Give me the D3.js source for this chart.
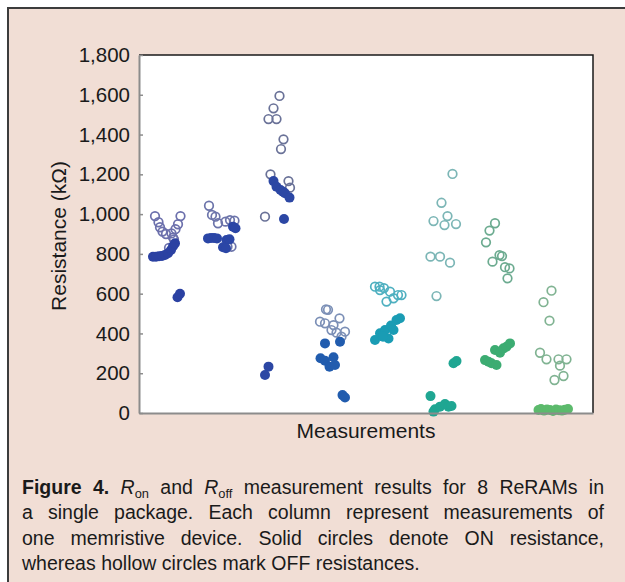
<!DOCTYPE html>
<html>
<head>
<meta charset="utf-8">
<script src="https://cdn.jsdelivr.net/npm/d3@7"></script>
<style>
  body { margin: 0; background: #fff; }
  svg { display: block; font-family: "Liberation Sans", Arial, Helvetica, sans-serif; }
</style>
</head>
<body>
<script>
// Device columns (x is a position along the measurement axis, value in kOhm)
const devices = [1, 2, 3, 4, 5, 6, 7, 8];

// Hollow circles: OFF resistance
const offPoints = [
  [[1.6, 990], [1.95, 959], [2.1, 934], [2.35, 912], [2.7, 900], [3.25, 903], [3.4, 882], [4.15, 990], [3.9, 949], [3.65, 924], [3.5, 873], [3.0, 830]],
  [[7.0, 1042], [7.3, 996], [7.65, 987], [7.9, 954], [8.65, 962], [9.1, 970], [9.55, 967], [8.85, 836], [9.25, 836]],
  [[14.05, 1594], [13.45, 1532], [12.95, 1478], [13.75, 1478], [14.45, 1376], [14.2, 1327], [13.15, 1200], [14.95, 1166], [15.1, 1133], [12.6, 987]],
  [[18.7, 521], [18.9, 519], [18.1, 459], [18.6, 451], [19.45, 442], [20.05, 476], [19.25, 417], [19.75, 404], [20.6, 409], [20.25, 384]],
  [[23.6, 635], [24.05, 635], [24.1, 618], [24.5, 628], [25.1, 610], [24.75, 560], [25.45, 577], [25.9, 593], [26.25, 593]],
  [[31.35, 1202], [30.25, 1057], [29.45, 965], [30.85, 990], [30.55, 945], [31.7, 950], [29.15, 786], [30.1, 786], [31.1, 756], [29.75, 588]],
  [[35.6, 954], [35.05, 917], [34.7, 858], [36.05, 794], [36.3, 789], [35.35, 761], [36.6, 733], [37.05, 727], [36.85, 677]],
  [[41.25, 615], [40.45, 557], [41.05, 464], [40.1, 303], [40.75, 270], [41.95, 270], [42.75, 270], [42.1, 238], [42.45, 186], [41.55, 166]]
];

// Solid circles: ON resistance
const onPoints = [
  [[1.4, 786], [1.7, 786], [2.0, 788], [2.3, 790], [2.6, 795], [2.9, 803], [3.2, 820], [3.4, 838], [3.6, 853], [3.85, 582], [4.1, 600]],
  [[6.9, 878], [7.2, 880], [7.5, 880], [7.8, 878], [8.75, 870], [9.05, 873], [8.4, 833], [8.7, 828], [9.4, 937], [9.65, 929]],
  [[13.45, 1166], [13.75, 1138], [14.15, 1121], [14.4, 1112], [14.6, 1105], [15.05, 1083], [14.5, 975], [12.95, 233], [12.6, 191]],
  [[18.6, 350], [20.1, 358], [18.15, 275], [18.6, 263], [19.05, 233], [19.45, 280], [19.6, 241], [20.35, 90], [20.6, 78]],
  [[23.6, 367], [24.1, 401], [24.6, 417], [24.95, 375], [25.45, 417], [25.75, 468], [26.1, 476], [24.4, 384], [25.2, 440]],
  [[31.45, 250], [31.75, 261], [29.15, 85], [29.45, 7], [29.6, 19], [30.1, 32], [30.6, 45], [30.95, 32], [31.25, 35]],
  [[34.6, 266], [34.95, 258], [35.25, 250], [35.75, 241], [35.6, 317], [36.1, 303], [36.45, 325], [36.75, 333], [37.1, 350]],
  [[39.95, 15], [40.2, 20], [40.5, 12], [40.8, 18], [41.1, 15], [41.4, 10], [41.7, 17], [42.0, 14], [42.3, 12], [42.6, 16], [42.9, 20]]
];

const solidColors = ["#2b41a2", "#2b46a6", "#2c47a4", "#215cae", "#1a9cb4", "#1fa692", "#3cac72", "#5cba6c"];
const hollowColors = ["#6c70ac", "#6c74aa", "#6a7298", "#7b8fb6", "#4fb0c0", "#7cb6b6", "#6cab90", "#80b392"];

const yTicks = [0, 200, 400, 600, 800, 1000, 1200, 1400, 1600, 1800];

const captionLines = [
  [[{t: "Figure", b: true}], [{t: "4.", b: true}], [{t: "R", i: true}, {t: "on", sub: true}], [{t: "and"}],
   [{t: "R", i: true}, {t: "off", sub: true}], "measurement", "results", "for", "8", "ReRAMs", "in"],
  "a single package. Each column represent measurements of".split(" "),
  "one memristive device. Solid circles denote ON resistance,".split(" "),
  "whereas hollow circles mark OFF resistances.".split(" ")
];

// Layout
const W = 625, H = 582;
const plot = {left: 139, right: 593, top: 55, bottom: 413};

const svg = d3.select("body").append("svg")
  .attr("width", W)
  .attr("height", H);

// outer figure frame
svg.append("rect")
  .attr("x", 8).attr("y", 8)
  .attr("width", 640).attr("height", 600)
  .attr("fill", "#f1ded5")
  .attr("stroke", "#3c3c3c")
  .attr("stroke-width", 2);

const x = d3.scaleLinear().domain([0, 45.4]).range([plot.left, plot.right]);
const y = d3.scaleLinear().domain([0, 1800]).range([plot.bottom, plot.top]);

// plot area
svg.append("rect")
  .attr("x", plot.left).attr("y", plot.top)
  .attr("width", plot.right - plot.left)
  .attr("height", plot.bottom - plot.top)
  .attr("fill", "#fff");

// top and right box lines
svg.append("path")
  .attr("d", `M${plot.left},${plot.top}H${plot.right}V${plot.bottom}`)
  .attr("fill", "none")
  .attr("stroke", "#1a1a1a")
  .attr("stroke-width", 1.5);

// points
devices.forEach((dev, i) => {
  const g = svg.append("g").attr("class", "device-" + dev);
  g.selectAll(".off")
    .data(offPoints[i]).enter()
    .append("circle")
      .attr("class", "off")
      .attr("cx", d => x(d[0]))
      .attr("cy", d => y(d[1]))
      .attr("r", 4.3)
      .attr("fill", "none")
      .attr("stroke", hollowColors[i])
      .attr("stroke-width", 1.7);
});
devices.forEach((dev, i) => {
  svg.select(".device-" + dev).selectAll(".on")
    .data(onPoints[i]).enter()
    .append("circle")
      .attr("class", "on")
      .attr("cx", d => x(d[0]))
      .attr("cy", d => y(d[1]))
      .attr("r", 5)
      .attr("fill", solidColors[i]);
});

// axes
const yAxis = svg.append("g")
  .attr("transform", `translate(${plot.left},0)`)
  .call(d3.axisLeft(y).tickValues(yTicks).tickFormat(d3.format(",")).tickSize(-4).tickSizeOuter(0).tickPadding(9));
yAxis.select(".domain").attr("stroke", "#8c8c8c").attr("stroke-width", 2);
yAxis.selectAll(".tick line").attr("stroke", "#8c8c8c").attr("stroke-width", 1.5);
yAxis.selectAll(".tick text")
  .attr("font-size", 20.5)
  .attr("font-family", "Liberation Sans, Arial, sans-serif")
  .attr("fill", "#1a1a1a");

const xAxis = svg.append("g")
  .attr("transform", `translate(0,${plot.bottom})`)
  .call(d3.axisBottom(x).tickValues([]).tickSizeOuter(0));
xAxis.select(".domain").attr("stroke", "#8c8c8c").attr("stroke-width", 2);

// axis titles
svg.append("text")
  .attr("transform", `translate(66,${(plot.top + plot.bottom) / 2 + 2}) rotate(-90)`)
  .attr("text-anchor", "middle")
  .attr("font-size", 21)
  .attr("fill", "#1a1a1a")
  .text("Resistance (k\u03A9)");

svg.append("text")
  .attr("x", (plot.left + plot.right) / 2)
  .attr("y", 438)
  .attr("text-anchor", "middle")
  .attr("font-size", 21)
  .attr("fill", "#1a1a1a")
  .text("Measurements");

// caption, justified word by word
const capLeft = 22, capRight = 604, capSize = 19.5, capTop = 494, capStep = 25.4;
captionLines.forEach((words, li) => {
  const g = svg.append("g");
  const nodes = words.map(w => {
    const parts = typeof w === "string" ? [{t: w}] : w;
    const t = g.append("text")
      .attr("y", capTop + li * capStep)
      .attr("font-size", capSize)
      .attr("fill", "#1a1a1a");
    parts.forEach(p => {
      const ts = t.append("tspan").text(p.t);
      if (p.b) ts.attr("font-weight", "bold");
      if (p.i) ts.attr("font-style", "italic");
      if (p.sub) ts.attr("font-size", capSize * 0.66).attr("dy", 4);
    });
    return t;
  });
  const widths = nodes.map(n => n.node().getComputedTextLength());
  const total = d3.sum(widths);
  const last = li === captionLines.length - 1;
  const gap = last ? capSize * 0.278 : (capRight - capLeft - total) / (nodes.length - 1);
  let cx = capLeft;
  nodes.forEach((n, k) => {
    n.attr("x", cx);
    cx += widths[k] + gap;
  });
});
</script>
</body>
</html>
